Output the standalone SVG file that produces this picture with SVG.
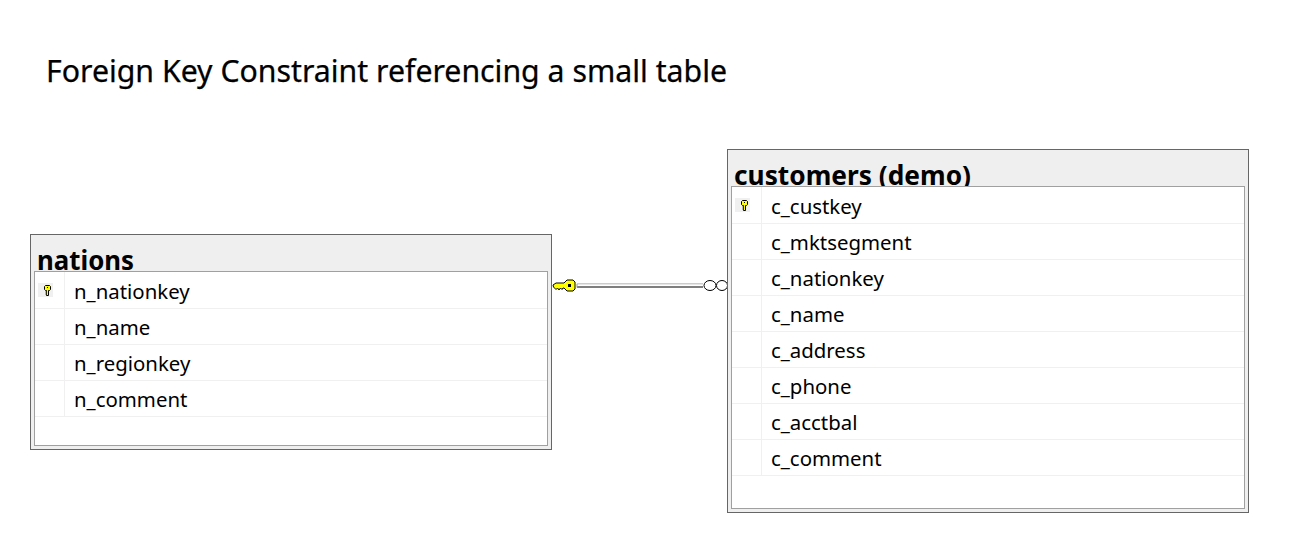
<svg xmlns="http://www.w3.org/2000/svg" width="1294" height="555" viewBox="0 0 1294 555">
<style>
text{font-family:"Noto Sans","Open Sans","Liberation Sans",sans-serif;fill:#000}
.title{font-size:30px;stroke:#000;stroke-width:.25px}
.head{font-size:26px;font-weight:700}
.col{font-size:20.400px}
.outer{fill:#efefef;stroke:#666;stroke-width:1}
.inner{fill:#fff;stroke:#a0a0a0;stroke-width:1}
.sep{stroke:#f0f0f0;stroke-width:1;fill:none}
.pk{fill:#f0f0f0}
.key{fill:#ff0;stroke:#000;stroke-width:1}
</style>
<defs>
<g id="smallkey">
<rect class="pk" x="0" y="0" width="15" height="14"/>
<path class="key" d="M7.500 2.500h4l1 1v3l-1 1h-1v5h-2v-1h-.5v-1h.5v-1h-.5v-1h.5v-1h-1l-1-1v-3z"/>
<rect x="9" y="4" width="1" height="1"/>
</g>
</defs>
<text class="title" x="46" y="82" textLength="681" lengthAdjust="spacingAndGlyphs">Foreign Key Constraint referencing a small table</text>
<g id="connectors">
<path d="M577 284H703" fill="none" stroke="#999" stroke-width="1"/>
<path d="M577 285.500H703" fill="none" stroke="#fff" stroke-width="2"/>
<path d="M577 287H703" fill="none" stroke="#555" stroke-width="1.500"/>
<rect x="576.500" y="284" width="1" height="3.500" fill="#999"/>
<ellipse cx="710" cy="285.500" rx="6" ry="5" fill="#fff" stroke="#000"/>
<ellipse cx="722" cy="285.500" rx="5.500" ry="5" fill="#fff" stroke="#000"/>
<path class="key" d="M553 285l3-2h8l3-3h6l2 2v7l-2 2h-6l-3-3h-1l-1 1.500-1.500-1.500-1.500 2-1.500-2-1.500 1.500-1.500-1.500-1-1z"/>
<rect x="568" y="284" width="3" height="3"/>
</g>
<g id="nations">
<rect class="outer" x="30.500" y="234.500" width="521" height="215"/>
<text class="head" x="37" y="270" textLength="97" lengthAdjust="spacingAndGlyphs">nations</text>
<rect class="inner" x="34.500" y="271.500" width="513" height="174"/>
<path class="sep" d="M35 308.500H547M35 344.500H547M35 380.500H547M35 416.500H547M64.500 272V416"/>
<use href="#smallkey" x="38" y="283"/>
<text class="col" x="74" y="299">n_nationkey</text>
<text class="col" x="74" y="335">n_name</text>
<text class="col" x="74" y="371">n_regionkey</text>
<text class="col" x="74" y="407">n_comment</text>
</g>
<g id="customers">
<rect class="outer" x="727.500" y="149.500" width="521" height="363"/>
<text class="head" x="734" y="185" textLength="237" lengthAdjust="spacingAndGlyphs">customers (demo)</text>
<rect class="inner" x="731.500" y="186.500" width="513" height="322"/>
<path class="sep" d="M732 223.500H1244M732 259.500H1244M732 295.500H1244M732 331.500H1244M732 367.500H1244M732 403.500H1244M732 439.500H1244M732 475.500H1244M761.500 187V475"/>
<use href="#smallkey" x="735" y="198"/>
<text class="col" x="771" y="214">c_custkey</text>
<text class="col" x="771" y="250">c_mktsegment</text>
<text class="col" x="771" y="286">c_nationkey</text>
<text class="col" x="771" y="322">c_name</text>
<text class="col" x="771" y="358">c_address</text>
<text class="col" x="771" y="394">c_phone</text>
<text class="col" x="771" y="430">c_acctbal</text>
<text class="col" x="771" y="466">c_comment</text>
</g>
</svg>
